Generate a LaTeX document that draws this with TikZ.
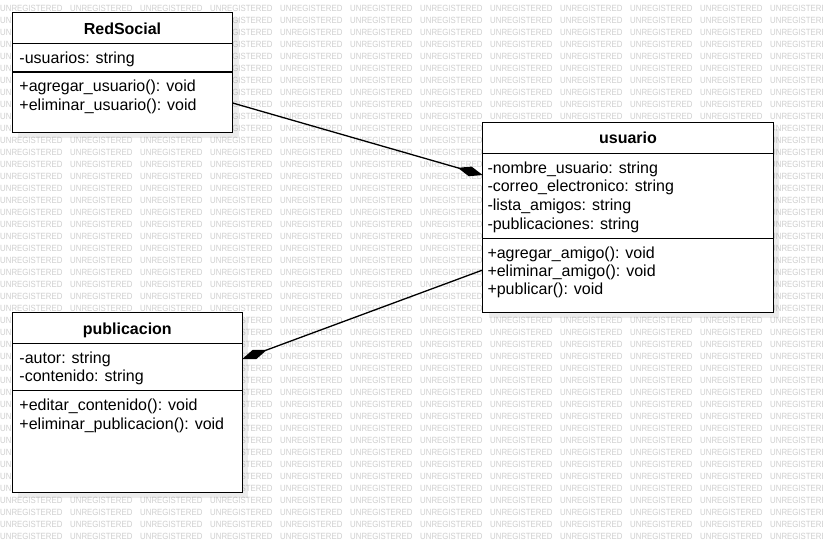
\documentclass[tikz,border=0pt]{standalone}
\usepackage{fontspec}
\setmainfont{Liberation Sans}
\usetikzlibrary{arrows.meta,calc}
\tikzset{
  comp/.style={draw, fill=white, line width=1.3pt, anchor=north west, inner sep=0pt, outer sep=0pt},
  txt/.style={anchor=base west, inner sep=0pt, font=\fontsize{16}{19}\selectfont},
  ttl/.style={anchor=base, inner sep=0pt, font=\fontsize{16}{19}\selectfont\bfseries},
  wm/.style={anchor=base west, inner sep=0pt, text=black!19, font=\fontsize{9}{9}\selectfont},
  shade/.style={fill=black, opacity=0.07},
  conn/.style={line width=1.3pt, -{Diamond[length=26pt,width=10pt]}}
}
\begin{document}
\begin{tikzpicture}[x=1pt,y=-1pt]
\useasboundingbox (0,0) rectangle (823,542);
\fill[white] (0,0) rectangle (823,542);
% watermark
\begin{scope}
\clip (0,0) rectangle (823,542);
\foreach \r in {0,...,44} {
  \foreach \c in {0,...,11} {
    \node[wm] (wm-\r-\c) at (70*\c, 11.2+12*\r) {\scalebox{0.87}[1]{UNREGISTERED}};
  }
}
\end{scope}
% shadows
\fill[shade] (18.3,18.3) rectangle (238.7,138.3);
\fill[shade] (488.7,128.7) rectangle (779.3,318.3);
\fill[shade] (18.3,318.3) rectangle (248.3,498.3);
% RedSocial
\node[comp, minimum width=220.4pt, minimum height=31pt] (rsT) at (12.3,12.3) {};
\node[comp, minimum width=220.4pt, minimum height=28.7pt] (rsA) at (12.3,43.3) {};
\node[comp, minimum width=220.4pt, minimum height=60.3pt] (rsM) at (12.3,72) {};
\node[ttl] (rsT-t) at (122.5,34) {RedSocial};
\node[txt] (rsA-1) at (19.3,63) {-usuarios: string};
\node[txt] (rsM-1) at (19.3,91) {+agregar\_usuario(): void};
\node[txt] (rsM-2) at (19.3,110) {+eliminar\_usuario(): void};
% usuario
\node[comp, minimum width=290.6pt, minimum height=31pt] (uT) at (482.7,122.7) {};
\node[comp, minimum width=290.6pt, minimum height=84.6pt] (uA) at (482.7,153.7) {};
\node[comp, minimum width=290.6pt, minimum height=74pt] (uM) at (482.7,238.3) {};
\node[ttl] (uT-t) at (628,143.3) {usuario};
\node[txt] (uA-1) at (487.3,173.5) {-nombre\_usuario: string};
\node[txt] (uA-2) at (487.3,191.5) {-correo\_electronico: string};
\node[txt] (uA-3) at (487.3,210) {-lista\_amigos: string};
\node[txt] (uA-4) at (487.3,229) {-publicaciones: string};
\node[txt] (uM-1) at (487.3,258) {+agregar\_amigo(): void};
\node[txt] (uM-2) at (487.3,276.3) {+eliminar\_amigo(): void};
\node[txt] (uM-3) at (487.3,294.8) {+publicar(): void};
% publicacion
\node[comp, minimum width=230pt, minimum height=31pt] (pT) at (12.3,312.3) {};
\node[comp, minimum width=230pt, minimum height=47.4pt] (pA) at (12.3,343.3) {};
\node[comp, minimum width=230pt, minimum height=101.6pt] (pM) at (12.3,390.7) {};
\node[ttl] (pT-t) at (127.3,334.3) {publicacion};
\node[txt] (pA-1) at (19.3,363.3) {-autor: string};
\node[txt] (pA-2) at (19.3,381.7) {-contenido: string};
\node[txt] (pM-1) at (19.3,410.7) {+editar\_contenido(): void};
\node[txt] (pM-2) at (19.3,429.3) {+eliminar\_publicacion(): void};
% connectors
\draw[conn] (rsM.east |- 0,103) -- (uA.west |- 0,175);
\draw[conn] (uM.west |- 0,270) -- (pA.east |- 0,359);
\end{tikzpicture}
\end{document}
